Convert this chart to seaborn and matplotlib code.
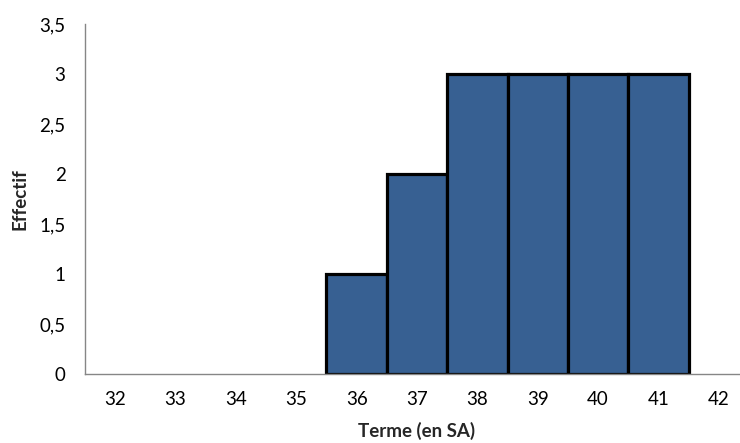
import numpy as np
import pandas as pd
import seaborn as sns
import matplotlib
matplotlib.use("Agg")
import matplotlib.pyplot as plt
from matplotlib.ticker import FuncFormatter, FixedLocator

# Data
termes = ["32", "33", "34", "35", "36", "37", "38", "39", "40", "41", "42"]
effectifs = [0, 0, 0, 0, 1, 2, 3, 3, 3, 3, 0]

df = pd.DataFrame({"Terme": termes, "Effectif": effectifs})

sns.set_style("white")
plt.rcParams["font.family"] = ["Lato", "DejaVu Sans"]

fig = plt.figure(figsize=(7.4, 4.43), dpi=100)
ax = fig.add_axes([85 / 740, 69 / 443, 664 / 740, 350 / 443])

sns.barplot(data=df, x="Terme", y="Effectif", order=termes, color="#376092",
            width=1.0, edgecolor="black", linewidth=2.3, saturation=1, ax=ax)

# hide empty bars so they don't draw an edge on the axis
for p in ax.patches:
    if p.get_height() == 0:
        p.set_visible(False)

ax.set_xlim(-0.5, len(termes) - 0.5)
ax.set_ylim(0, 3.5)
ax.set_yticks(np.arange(0, 3.51, 0.5))
ax.yaxis.set_major_formatter(FuncFormatter(lambda v, _: f"{v:g}".replace(".", ",")))

# tick marks between categories, labels at centres
ax.xaxis.set_minor_locator(FixedLocator(np.arange(-0.5, len(termes), 1)))
ax.tick_params(axis="x", which="major", length=0, pad=12, labelsize=13.5, colors="black")
ax.tick_params(axis="x", which="minor", length=4, width=1, color="#868686", direction="out")
ax.tick_params(axis="y", length=4, width=1, color="#868686", direction="out",
               labelsize=13.5, labelcolor="black", pad=10)

for s in ["top", "right"]:
    ax.spines[s].set_visible(False)
for s in ["left", "bottom"]:
    ax.spines[s].set_color("#868686")
    ax.spines[s].set_linewidth(1)

ax.set_xlabel("Terme (en SA)", fontsize=13.5, fontweight="bold", labelpad=10)
ax.set_ylabel("Effectif", fontsize=13.5, fontweight="bold", labelpad=8)

fig.savefig("out.png", dpi=100)
